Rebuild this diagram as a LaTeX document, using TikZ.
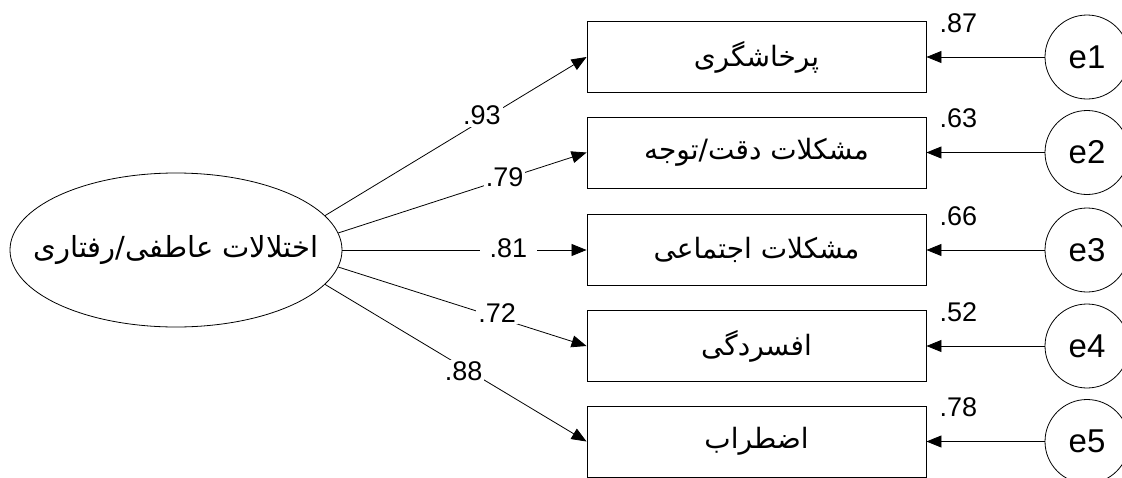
\documentclass[tikz,border=0pt]{standalone}
\usepackage{fontspec}
\setmainfont{Liberation Sans}
\newfontfamily\fa[Script=Arabic]{DejaVu Sans}
\TeXXeTstate=1
\usetikzlibrary{shapes.geometric,arrows.meta}
\begin{document}
\begin{tikzpicture}[x=1pt,y=-1pt,
  obs/.style={draw, line width=0.9pt, minimum width=339pt, minimum height=71pt, inner sep=0pt, font=\fa\fontsize{28}{32}\selectfont},
  lat/.style={ellipse, draw, line width=0.8pt, minimum width=332pt, minimum height=154pt, inner sep=0pt, font=\fa\fontsize{29}{34}\selectfont},
  err/.style={circle, draw, line width=0.8pt, minimum size=84pt, inner sep=0pt, font=\fontsize{33}{38}\selectfont},
  lbl/.style={fill=white, inner sep=2pt, font=\fontsize{27}{30}\selectfont},
  vlbl/.style={inner sep=0pt, font=\fontsize{27}{30}\selectfont},
  pth/.style={line width=0.8pt, -{Triangle[length=15pt,width=12pt]}}]
\useasboundingbox (0,0) rectangle (1122,477);
\node[lat] (L) at (176,250) {\makebox[0pt]{\beginR اختلالات عاطفی/رفتاری\endR}};
\node[obs] (o1) at (756.5,57) {\beginR پرخاشگری\endR};
\node[obs] (o2) at (756.5,152.5) {\beginR مشکلات دقت/توجه\endR};
\node[obs] (o3) at (756.5,250) {\beginR مشکلات اجتماعی\endR};
\node[obs] (o4) at (756.5,346) {\beginR افسردگی\endR};
\node[obs] (o5) at (756.5,441.5) {\beginR اضطراب\endR};
\node[err] (e1) at (1087,57) {e1};
\node[err] (e2) at (1087,152.5) {e2};
\node[err] (e3) at (1087,250) {e3};
\node[err] (e4) at (1087,346) {e4};
\node[err] (e5) at (1087,441.5) {e5};
\draw[pth] (L.13) -- node[lbl,pos=0.6,yshift=5pt] {.93} (o1.west);
\draw[pth] (L.6.5) -- node[lbl,pos=0.67,yshift=2pt] {.79} (o2.west);
\draw[pth] (L.0) -- node[lbl,pos=0.68,yshift=2pt,inner xsep=10pt] {.81} (o3.west);
\draw[pth] (L.-6.5) -- node[lbl,pos=0.64,yshift=5pt] {.72} (o4.west);
\draw[pth] (L.-13) -- node[lbl,pos=0.53,yshift=-4pt] {.88} (o5.west);
\draw[pth] (e1) -- node[vlbl,at end,xshift=32pt,yshift=34pt] {.87} (o1.east);
\draw[pth] (e2) -- node[vlbl,at end,xshift=32pt,yshift=34pt] {.63} (o2.east);
\draw[pth] (e3) -- node[vlbl,at end,xshift=32pt,yshift=34pt] {.66} (o3.east);
\draw[pth] (e4) -- node[vlbl,at end,xshift=32pt,yshift=34pt] {.52} (o4.east);
\draw[pth] (e5) -- node[vlbl,at end,xshift=32pt,yshift=34pt] {.78} (o5.east);
\end{tikzpicture}
\end{document}
